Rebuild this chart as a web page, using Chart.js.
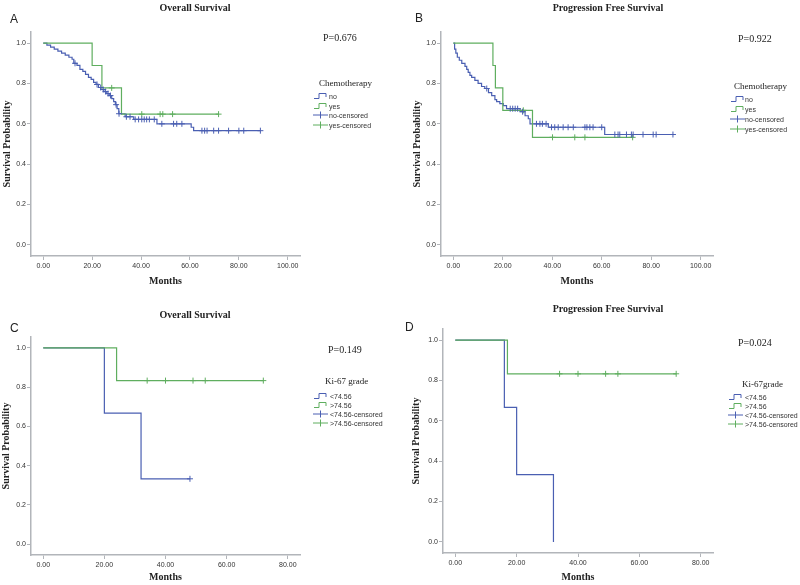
<!DOCTYPE html>
<html>
<head>
<meta charset="utf-8">
<script src="https://cdn.jsdelivr.net/npm/chart.js@4.4.0/dist/chart.umd.min.js"></script>
<style>
  body { margin: 0; background: #fff; }
  #fig { position: relative; width: 800px; height: 585px; overflow: hidden; background: #fff; }
  canvas { position: absolute; }
  .txt { position: absolute; white-space: nowrap; transform: translateY(-50%); line-height: 1; color: #222; }
  .ptitle { font: bold 10px "Liberation Serif", serif; transform: translate(-50%, -50%); }
  .letter { font: 12px "Liberation Sans", sans-serif; }
  .pval { font: 10px "Liberation Serif", serif; }
  .ltitle { font: 9px "Liberation Serif", serif; }
  .litem { font: 7px "Liberation Sans", sans-serif; color: #333; }
  .icon { position: absolute; transform: translateY(-50%); }
</style>
</head>
<body>
<div id="fig">
  <canvas id="chA" width="400" height="290" style="left:0;top:0"></canvas>
  <canvas id="chB" width="400" height="290" style="left:400px;top:0"></canvas>
  <canvas id="chC" width="400" height="295" style="left:0;top:290px"></canvas>
  <canvas id="chD" width="400" height="295" style="left:400px;top:290px"></canvas>
</div>
<script>
// tick values
const yTicks = [0, 0.2, 0.4, 0.6, 0.8, 1.0];
const xTicks100 = [0, 20, 40, 60, 80, 100];
const xTicks80 = [0, 20, 40, 60, 80];

// A - overall survival, chemotherapy no / yes (step times in months, survival after step)
const osNoT = [0, 1.5, 3, 4.5, 6, 7.5, 9, 10.5, 11.8, 12.5, 13.8, 15, 16.2, 17.3, 18.5, 19.6, 20.6, 21.6, 22.6, 23.6, 24.8, 26, 27, 28, 28.8, 29.5, 30.2, 30.9, 33.5, 37, 46.5, 60.5, 61.5, 88.8];
const osNoS = [1, 0.99, 0.98, 0.97, 0.96, 0.95, 0.94, 0.93, 0.92, 0.90, 0.89, 0.87, 0.86, 0.845, 0.83, 0.82, 0.805, 0.795, 0.78, 0.77, 0.76, 0.75, 0.74, 0.725, 0.71, 0.695, 0.675, 0.65, 0.635, 0.622, 0.60, 0.583, 0.566, 0.566];
const osNoCens = [13, 22, 23.5, 24.5, 25.5, 26.5, 27.5, 29.8, 31, 34, 35.5, 37.6, 39, 40.3, 41.3, 42.3, 43.4, 45.4, 48.5, 53.3, 54.6, 56.7, 64.9, 66, 67, 69.7, 71.7, 75.8, 80, 82, 88.8];
const osYesT = [0, 20, 24, 32, 71.7];
const osYesS = [1, 0.889, 0.778, 0.648, 0.648];
const osYesCens = [28, 40.3, 47.8, 48.9, 52.9, 71.7];

// B - progression free survival, chemotherapy no / yes
const pfsNoT = [0, 0.5, 1, 1.6, 2.4, 3.4, 4.7, 5.4, 6, 6.7, 7.4, 8.7, 10, 11.4, 12.7, 14.2, 15.5, 16.8, 17.5, 18.8, 20.2, 21.5, 27, 29, 30.3, 31, 38.4, 61.2, 88.8];
const pfsNoS = [1, 0.97, 0.95, 0.93, 0.915, 0.90, 0.885, 0.87, 0.855, 0.84, 0.83, 0.815, 0.80, 0.785, 0.775, 0.755, 0.74, 0.72, 0.71, 0.70, 0.69, 0.675, 0.66, 0.64, 0.625, 0.60, 0.583, 0.547, 0.547];
const pfsNoCens = [13.5, 23, 24, 25, 26, 28, 33.6, 35, 36, 37.5, 39.7, 41, 42.4, 44.4, 46.4, 48.5, 53.2, 54, 55.2, 56.5, 60, 65.3, 66.6, 67.3, 70, 72, 72.7, 76.7, 80.8, 82, 88.8];
const pfsYesT = [0, 16, 17, 20, 32, 72.5];
const pfsYesS = [1, 0.889, 0.778, 0.667, 0.533, 0.533];
const pfsYesCens = [28.3, 40.1, 49.1, 53.2, 72.5];

// C - overall survival, Ki-67 <74.56 / >74.56
const osLowT = [0, 20, 32, 48];
const osLowS = [1, 0.667, 0.333, 0.333];
const osLowCens = [48];
const osHighT = [0, 24, 72];
const osHighS = [1, 0.833, 0.833];
const osHighCens = [34, 40, 49, 53, 72];

// D - progression free survival, Ki-67 <74.56 / >74.56
const pfsLowT = [0, 16, 20, 32];
const pfsLowS = [1, 0.667, 0.333, 0];
const pfsLowCens = [];
const pfsHighT = [0, 17, 72];
const pfsHighS = [1, 0.833, 0.833];
const pfsHighCens = [34, 40, 49, 53, 72];

const blue = '#4a5fb2';
const green = '#5fae5f';
const axisColor = '#b2b5ba';
const chemoLabels = ['no', 'yes', 'no-censored', 'yes-censored'];
const kiLabels = ['<74.56', '>74.56', '<74.56-censored', '>74.56-censored'];

const panels = [
  { id: 'chA', left: 0, top: 0, title: 'Overall Survival', letter: 'A', p: 'P=0.676',
    a: [osNoT, osNoS, osNoCens], b: [osYesT, osYesS, osYesCens], xTicks: xTicks100, xMax: 105, xMin: -5,
    pad: { left: 0, top: 32, right: 100, bottom: 0 }, yW: 31, xH: 34, yTP: 1, xTP: 3,
    titleXY: [195, 7], letterXY: [10, 19], pXY: [323, 37], legTitle: 'Chemotherapy', legTitleXY: [319, 83],
    iconX: 313, textX: 329, rows: [96, 105.5, 115, 124.5], labels: chemoLabels },
  { id: 'chB', left: 400, top: 0, title: 'Progression Free Survival', letter: 'B', p: 'P=0.922',
    a: [pfsNoT, pfsNoS, pfsNoCens], b: [pfsYesT, pfsYesS, pfsYesCens], xTicks: xTicks100, xMax: 105, xMin: -5,
    pad: { left: 10, top: 32, right: 87, bottom: 0 }, yW: 31, xH: 34, yTP: 1, xTP: 3,
    titleXY: [608, 7], letterXY: [415, 18], pXY: [738, 38], legTitle: 'Chemotherapy', legTitleXY: [734, 86],
    iconX: 730, textX: 745, rows: [99, 108.5, 118.5, 128.5], labels: chemoLabels },
  { id: 'chC', left: 0, top: 290, title: 'Overall Survival', letter: 'C', p: 'P=0.149',
    a: [osLowT, osLowS, osLowCens], b: [osHighT, osHighS, osHighCens], xTicks: xTicks80, xMax: 84, xMin: -4,
    pad: { left: 0, top: 47, right: 100, bottom: 0 }, yW: 31, xH: 30, yTP: 0, xTP: 2,
    titleXY: [195, 314], letterXY: [10, 328], pXY: [328, 349], legTitle: 'Ki-67 grade', legTitleXY: [325, 381],
    iconX: 313, textX: 330, rows: [396, 405, 414, 423], labels: kiLabels },
  { id: 'chD', left: 400, top: 290, title: 'Progression Free Survival', letter: 'D', p: 'P=0.024',
    a: [pfsLowT, pfsLowS, pfsLowCens], b: [pfsHighT, pfsHighS, pfsHighCens], xTicks: xTicks80, xMax: 84, xMin: -4,
    pad: { left: 10, top: 39, right: 87, bottom: 0 }, yW: 33, xH: 32, yTP: 0, xTP: 2,
    titleXY: [608, 308], letterXY: [405, 327], pXY: [738, 342], legTitle: 'Ki-67grade', legTitleXY: [742, 384],
    iconX: 728, textX: 745, rows: [397, 406, 415, 424], labels: kiLabels }
];

// survival value of a step curve at time t
function stepAt(T, S, t) {
  let v = S[0];
  for (let i = 0; i < T.length; i++) if (T[i] <= t) v = S[i];
  return v;
}
const curve = (T, S, color, order) => ({
  data: T.map((t, i) => ({ x: t, y: S[i] })), stepped: true, borderColor: color, borderWidth: 1.2,
  pointRadius: 0, pointHoverRadius: 0, fill: false, order: order
});
const censor = (C, T, S, color) => ({
  data: C.map(t => ({ x: t, y: stepAt(T, S, t) })), showLine: false, pointStyle: 'cross', pointRadius: 3,
  pointHoverRadius: 3, borderColor: color, borderWidth: 1, order: 0
});

const tickFont = { family: 'Liberation Sans', size: 7 };
const axisTitleFont = { family: 'Liberation Serif', size: 10, weight: 'bold' };

const fig = document.getElementById('fig');
function addText(cls, text, x, y) {
  const d = document.createElement('div');
  d.className = 'txt ' + cls; d.textContent = text;
  d.style.left = x + 'px'; d.style.top = y + 'px';
  fig.appendChild(d);
}
function addIcon(kind, color, x, y) {
  const ns = 'http://www.w3.org/2000/svg';
  const svg = document.createElementNS(ns, 'svg');
  svg.setAttribute('width', 15); svg.setAttribute('height', 8);
  svg.setAttribute('class', 'icon');
  svg.style.left = x + 'px'; svg.style.top = y + 'px';
  const pl = document.createElementNS(ns, 'polyline');
  pl.setAttribute('points', kind === 'step' ? '1,6.5 6,6.5 6,1.5 13,1.5 13,5' : '0,4 15,4 M7.5,0.5');
  pl.setAttribute('fill', 'none'); pl.setAttribute('stroke', color); pl.setAttribute('stroke-width', 1);
  svg.appendChild(pl);
  if (kind !== 'step') {
    const v = document.createElementNS(ns, 'line');
    v.setAttribute('x1', 7.5); v.setAttribute('x2', 7.5); v.setAttribute('y1', 0.5); v.setAttribute('y2', 7.5);
    v.setAttribute('stroke', color); v.setAttribute('stroke-width', 1);
    svg.appendChild(v);
  }
  fig.appendChild(svg);
}

panels.forEach(p => {
  new Chart(document.getElementById(p.id), {
    type: 'line',
    data: { datasets: [
      curve(p.a[0], p.a[1], blue, 2),
      curve(p.b[0], p.b[1], green, 1),
      censor(p.a[2], p.a[0], p.a[1], blue),
      censor(p.b[2], p.b[0], p.b[1], green)
    ] },
    options: {
      responsive: false, animation: false, events: [],
      layout: { padding: p.pad },
      plugins: { legend: { display: false }, tooltip: { enabled: false } },
      scales: {
        x: {
          type: 'linear', min: p.xMin, max: p.xMax,
          afterBuildTicks: s => { s.ticks = p.xTicks.map(v => ({ value: v })); },
          afterFit: s => { s.height = p.xH; },
          ticks: { font: tickFont, color: '#333', padding: 2, autoSkip: false, maxRotation: 0, callback: v => v.toFixed(2) },
          grid: { drawOnChartArea: false, tickLength: 4, color: axisColor },
          border: { color: axisColor, width: 1.5 },
          title: { display: true, text: 'Months', font: axisTitleFont, color: '#222', padding: { top: 0, bottom: p.xTP } }
        },
        y: {
          type: 'linear', min: -0.055, max: 1.055,
          afterBuildTicks: s => { s.ticks = yTicks.map(v => ({ value: v })); },
          afterFit: s => { s.width = p.yW; },
          ticks: { font: tickFont, color: '#333', padding: 1, callback: v => v.toFixed(1) },
          grid: { drawOnChartArea: false, tickLength: 4, color: axisColor },
          border: { color: axisColor, width: 1.5 },
          title: { display: true, text: 'Survival Probability', font: axisTitleFont, color: '#222', padding: { top: p.yTP, bottom: 0 } }
        }
      }
    }
  });

  addText('ptitle', p.title, p.titleXY[0], p.titleXY[1]);
  addText('letter', p.letter, p.letterXY[0], p.letterXY[1]);
  addText('pval', p.p, p.pXY[0], p.pXY[1]);
  addText('ltitle', p.legTitle, p.legTitleXY[0], p.legTitleXY[1]);
  p.labels.forEach((lab, i) => {
    const color = i % 2 === 0 ? blue : green;
    addIcon(i < 2 ? 'step' : 'cross', color, p.iconX, p.rows[i]);
    addText('litem', lab, p.textX, p.rows[i]);
  });
});
</script>
</body>
</html>
